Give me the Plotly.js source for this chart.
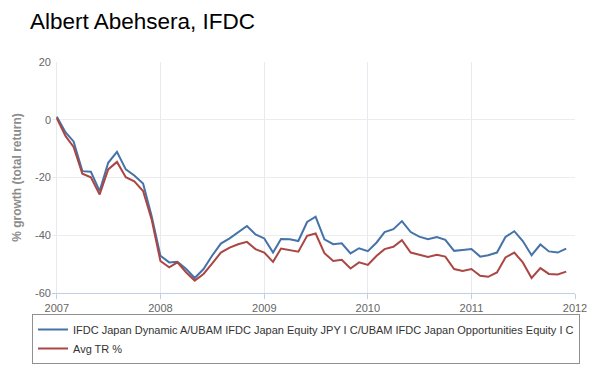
<!DOCTYPE html>
<html>
<head>
<meta charset="utf-8">
<script src="https://cdn.plot.ly/plotly-3.0.1.min.js"></script>
<style>html,body{margin:0;padding:0;background:#fff;}#chart{width:600px;height:376px;}</style>
</head>
<body>
<div id="chart"></div>
<script>
const months = [
  '2007-01-01','2007-02-01','2007-03-01','2007-04-01','2007-05-01','2007-06-01','2007-07-01','2007-08-01','2007-09-01','2007-10-01','2007-11-01','2007-12-01',
  '2008-01-01','2008-02-01','2008-03-01','2008-04-01','2008-05-01','2008-06-01','2008-07-01','2008-08-01','2008-09-01','2008-10-01','2008-11-01','2008-12-01',
  '2009-01-01','2009-02-01','2009-03-01','2009-04-01','2009-05-01','2009-06-01','2009-07-01','2009-08-01','2009-09-01','2009-10-01','2009-11-01','2009-12-01',
  '2010-01-01','2010-02-01','2010-03-01','2010-04-01','2010-05-01','2010-06-01','2010-07-01','2010-08-01','2010-09-01','2010-10-01','2010-11-01','2010-12-01',
  '2011-01-01','2011-02-01','2011-03-01','2011-04-01','2011-05-01','2011-06-01','2011-07-01','2011-08-01','2011-09-01','2011-10-01','2011-11-01','2011-12-01'
];
const fundName = 'IFDC Japan Dynamic A/UBAM IFDC Japan Equity JPY I C/UBAM IFDC Japan Opportunities Equity I C';
const fundValues = [
  1.0, -4.4, -7.5, -17.8, -18.0, -24.7, -14.9, -11.1, -17.2, -19.3, -22.1, -33.3,
  -47.1, -49.4, -49.2, -51.7, -54.8, -51.7, -47.1, -42.9, -41.1, -38.9, -36.8, -39.7,
  -41.1, -46.0, -41.3, -41.4, -42.0, -35.4, -33.6, -41.4, -43.1, -42.8, -46.3, -44.5,
  -45.5, -42.5, -38.9, -37.9, -35.1, -38.9, -40.5, -41.4, -40.6, -41.6, -45.4, -45.1,
  -44.8, -47.4, -46.9, -46.0, -40.6, -38.6, -42.0, -46.9, -43.2, -45.6, -46.0, -44.6
];
const avgName = 'Avg TR %';
const avgValues = [
  0.5, -5.7, -9.4, -18.7, -19.9, -25.9, -17.2, -14.6, -19.9, -21.3, -24.7, -34.5,
  -48.9, -51.1, -49.4, -52.9, -55.7, -53.4, -49.8, -46.0, -44.3, -43.1, -42.3, -44.8,
  -46.0, -49.2, -44.6, -45.1, -45.7, -40.2, -39.4, -46.2, -48.9, -48.5, -51.5, -49.4,
  -50.3, -47.1, -44.8, -44.0, -41.7, -46.0, -46.8, -47.5, -46.8, -47.4, -51.7, -52.4,
  -51.7, -54.0, -54.4, -52.9, -47.7, -46.0, -49.4, -54.8, -51.4, -53.4, -53.6, -52.6
];
const xTickVals = ['2007-01-01','2008-01-01','2009-01-01','2010-01-01','2011-01-01','2012-01-01'];
const xTickText = ['2007','2008','2009','2010','2011','2012'];
const yTickVals = [20, 0, -20, -40, -60];

const font = 'Arial, "Liberation Sans", sans-serif';
const traces = [
  {x: months, y: fundValues, name: fundName, type: 'scatter', mode: 'lines',
   line: {color: '#4572A7', width: 2}},
  {x: months, y: avgValues, name: avgName, type: 'scatter', mode: 'lines',
   line: {color: '#AA4643', width: 2}}
];
const plotH = 376 - 62 - 83;
const layout = {
  width: 600, height: 376,
  paper_bgcolor: '#ffffff', plot_bgcolor: '#ffffff',
  margin: {l: 52, r: 25, t: 62, b: 83},
  font: {family: font, color: '#666666', size: 11},
  title: {text: 'Albert Abehsera, IFDC', x: 30/600, xref: 'container', xanchor: 'left',
          y: 1 - 21/376, yref: 'container', yanchor: 'middle',
          font: {family: font, size: 22.5, color: '#000000'}},
  xaxis: {type: 'date', range: ['2006-12-15', '2012-01-01'],
          tickvals: xTickVals, ticktext: xTickText,
          showgrid: true, gridcolor: '#e8e8ee', gridwidth: 1,
          showline: true, linecolor: '#C0D0E0', linewidth: 1,
          ticks: 'outside', ticklen: 5, tickcolor: '#C0D0E0',
          zeroline: false, tickfont: {size: 11, color: '#666666'}},
  yaxis: {range: [-60, 20], tickvals: yTickVals, ticktext: yTickVals.map(String),
          showgrid: true, gridcolor: '#ececec', gridwidth: 1,
          zeroline: false, showline: false, ticks: '',
          tickfont: {size: 11, color: '#666666'},
          title: {text: '<b>% growth (total return)</b>', standoff: 10,
                  font: {size: 12, color: '#8c8c8c'}}},
  showlegend: true,
  legend: {orientation: 'v', x: (32 - 52)/523, xanchor: 'left',
           y: -(364 - 293)/plotH, yanchor: 'bottom',
           bordercolor: '#909090', borderwidth: 1, bgcolor: '#ffffff',
           font: {size: 11, color: '#333333'}}
};
Plotly.newPlot('chart', traces, layout, {displayModeBar: false, staticPlot: true});
</script>
</body>
</html>
